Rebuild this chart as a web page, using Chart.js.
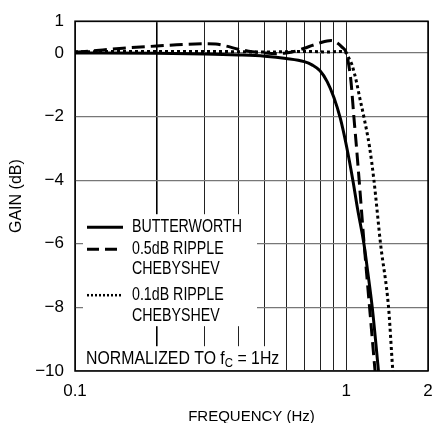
<!DOCTYPE html>
<html>
<head>
<meta charset="utf-8">
<script src="https://cdn.jsdelivr.net/npm/chart.js@4.4.1/dist/chart.umd.min.js"></script>
<style>body{margin:0;background:#fff}</style>
</head>
<body>
<canvas id="filterChart" width="434" height="423"></canvas>
<script>
const FONT = '"Liberation Sans", Arial, sans-serif';
const LEGEND_SQUEEZE = 0.79; // condensed look of the original lettering
const NOTE_SQUEEZE = 0.88;

// values (frequency in Hz, gain in dB)
const butterFreq = [0.1, 0.2, 0.3, 0.4, 0.5, 0.6, 0.7, 0.75, 0.8, 0.85, 0.9, 0.95, 1.0, 1.057, 1.1, 1.161, 1.2, 1.246, 1.307, 1.33];
const butterGain = [0, -0.01, -0.03, -0.06, -0.1, -0.17, -0.27, -0.38, -0.56, -0.9, -1.4, -2.05, -2.9, -4.0, -4.9, -6.0, -6.9, -8.0, -9.8, -10.5];

const cheb05Freq = [0.1, 0.12, 0.15, 0.2, 0.25, 0.3, 0.33, 0.36, 0.4, 0.45, 0.5, 0.55, 0.6, 0.65, 0.7, 0.75, 0.8, 0.85, 0.88, 0.92, 0.96, 1.0, 1.02, 1.04, 1.066, 1.091, 1.115, 1.163, 1.218, 1.276, 1.3];
const cheb05Gain = [0.02, 0.08, 0.15, 0.22, 0.27, 0.29, 0.28, 0.22, 0.12, 0.04, 0.0, -0.02, 0.0, 0.06, 0.15, 0.24, 0.32, 0.38, 0.39, 0.33, 0.2, 0.0, -0.36, -0.88, -2.0, -3.0, -4.0, -6.0, -8.0, -10.0, -10.8];

const cheb01Freq = [0.1, 0.2, 0.3, 0.4, 0.5, 0.6, 0.7, 0.8, 0.85, 0.9, 0.95, 1.0, 1.02, 1.048, 1.088, 1.12, 1.16, 1.218, 1.264, 1.337, 1.431, 1.484, 1.52];
const cheb01Gain = [0.04, 0.05, 0.05, 0.04, 0.03, 0.04, 0.05, 0.04, 0.03, 0.04, 0.05, 0.0, -0.15, -0.36, -0.88, -1.4, -2.0, -2.96, -4.0, -6.0, -8.0, -10.0, -11.0];

const yTickValues = [1, 0, -2, -4, -6, -8, -10];
const xGridValues = [0.1, 0.2, 0.3, 0.4, 0.5, 0.6, 0.7, 0.8, 0.9, 1, 2];
const xLabelValues = [0.1, 1, 2];

const toPoints = (xs, ys) => xs.map((x, i) => ({ x: x, y: ys[i] }));
const fmtMinus = v => String(v).replace('-', '\u2212');

const legendItems = [
    { lines: ['BUTTERWORTH'], rows: [0], dash: [], width: 3 },
    { lines: ['0.5dB RIPPLE', 'CHEBYSHEV'], rows: [22, 42], dash: [12, 6], width: 3 },
    { lines: ['0.1dB RIPPLE', 'CHEBYSHEV'], rows: [68, 89], dash: [2, 2], width: 2.5 }
];

// draws squeezed text, returns its drawn width
function narrowText(ctx, text, x, y, k) {
    ctx.save();
    ctx.translate(x, y);
    ctx.scale(k, 1);
    ctx.fillText(text, 0, 0);
    const w = ctx.measureText(text).width * k;
    ctx.restore();
    return w;
}

const overlay = {
    id: 'overlay',
    beforeDatasetsDraw(chart) {
        const { ctx, chartArea: a } = chart;
        ctx.save();
        ctx.fillStyle = '#fff';
        ctx.fillRect(a.left + 8, a.top + 193, 174, 112);
        ctx.fillRect(a.left + 8, a.top + 325, 202, a.bottom - a.top - 326);

        ctx.font = '18px ' + FONT;
        ctx.fillStyle = '#000';
        ctx.textBaseline = 'middle';
        const y0 = a.top + 206;
        legendItems.forEach(item => {
            const y = y0 + item.rows[0];
            ctx.beginPath();
            ctx.setLineDash(item.dash);
            ctx.lineWidth = item.width;
            ctx.strokeStyle = '#000';
            ctx.moveTo(a.left + 12, y);
            ctx.lineTo(a.left + 48, y);
            ctx.stroke();
            item.lines.forEach((t, i) => narrowText(ctx, t, a.left + 57, y0 + item.rows[i], LEGEND_SQUEEZE));
        });
        ctx.setLineDash([]);

        // normalisation note
        const ny = a.bottom - 12;
        let nx = a.left + 11;
        nx += narrowText(ctx, 'NORMALIZED TO f', nx, ny, NOTE_SQUEEZE);
        ctx.font = '13px ' + FONT;
        nx += narrowText(ctx, 'C', nx, ny + 4, NOTE_SQUEEZE);
        ctx.font = '18px ' + FONT;
        narrowText(ctx, ' = 1Hz', nx, ny, NOTE_SQUEEZE);
        ctx.restore();
    },
    afterDatasetsDraw(chart) {
        const { ctx, chartArea: a } = chart;
        ctx.save();
        ctx.strokeStyle = '#000';
        ctx.lineWidth = 1.5;
        ctx.strokeRect(a.left, a.top, a.right - a.left, a.bottom - a.top);
        ctx.restore();
    }
};

const ctx = document.getElementById('filterChart').getContext('2d');
new Chart(ctx, {
    type: 'line',
    data: {
        datasets: [
            { label: 'BUTTERWORTH', data: toPoints(butterFreq, butterGain), borderColor: '#000', borderWidth: 3, borderDash: [] },
            { label: '0.5dB RIPPLE CHEBYSHEV', data: toPoints(cheb05Freq, cheb05Gain), borderColor: '#000', borderWidth: 3, borderDash: [13, 6] },
            { label: '0.1dB RIPPLE CHEBYSHEV', data: toPoints(cheb01Freq, cheb01Gain), borderColor: '#000', borderWidth: 3, borderDash: [3, 3] }
        ]
    },
    options: {
        responsive: false,
        animation: false,
        layout: { padding: { top: 20, right: 6, left: 0, bottom: 0 } },
        elements: {
            point: { radius: 0 },
            line: { cubicInterpolationMode: 'monotone', fill: false }
        },
        plugins: {
            legend: { display: false },
            tooltip: { enabled: false }
        },
        scales: {
            x: {
                type: 'logarithmic',
                min: 0.1,
                max: 2,
                afterBuildTicks: s => { s.ticks = xGridValues.map(v => ({ value: v })); },
                afterFit: s => { s.height = 52; s.paddingLeft = 0; s.paddingRight = 0; },
                ticks: {
                    autoSkip: false,
                    maxRotation: 0,
                    padding: 10,
                    color: '#000',
                    font: { family: FONT, size: 17 },
                    callback: v => xLabelValues.includes(v) ? String(v) : ''
                },
                grid: {
                    drawTicks: false,
                    color: c => c.tick && c.tick.value === 0.2 ? '#000' : '#222',
                    lineWidth: c => c.tick && c.tick.value === 0.2 ? 1.6 : 1
                },
                border: { display: false },
                title: {
                    display: true,
                    text: 'FREQUENCY (Hz)',
                    color: '#000',
                    font: { family: FONT, size: 15, lineHeight: 0.8 },
                    padding: { top: 0, bottom: 0 }
                }
            },
            y: {
                min: -10,
                max: 1,
                afterBuildTicks: s => { s.ticks = yTickValues.map(v => ({ value: v })); },
                afterFit: s => { s.width = 75; },
                ticks: {
                    padding: 11,
                    color: '#000',
                    font: { family: FONT, size: 17 },
                    callback: v => fmtMinus(v)
                },
                grid: {
                    drawTicks: false,
                    color: '#777',
                    lineWidth: 1.3
                },
                border: { display: false },
                title: {
                    display: true,
                    text: 'GAIN (dB)',
                    color: '#000',
                    font: { family: FONT, size: 16, lineHeight: 1 },
                    padding: { top: 9, bottom: 0 }
                }
            }
        }
    },
    plugins: [overlay]
});
</script>
</body>
</html>
